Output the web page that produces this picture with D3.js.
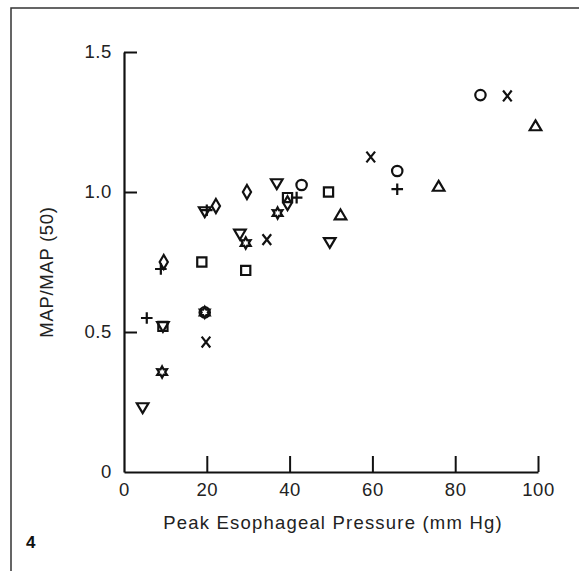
<!DOCTYPE html>
<html>
<head>
<meta charset="utf-8">
<script src="https://cdn.jsdelivr.net/npm/d3@7"></script>
<style>
  body { margin: 0; background: #fff; }
  svg { display: block; font-family: "Liberation Sans", Arial, Helvetica, sans-serif; }
  .tick text { font-size: 18.5px; fill: #222; letter-spacing: 0.6px; }
</style>
</head>
<body>
<div class="chart"></div>
<script>
// x = peak esophageal pressure (mm Hg), y = MAP/MAP(50)
const triangleDown = [[4.5, 0.23], [9.4, 0.52], [19.5, 0.93], [28, 0.85], [36.9, 1.03], [49.7, 0.82]];
const diamond = [[9.6, 0.75], [22.2, 0.95], [29.7, 1.0], [39.5, 0.96]];
const plus = [[5.5, 0.55], [8.9, 0.725], [20, 0.935], [41.7, 0.98], [66, 1.01]];
const square = [[9.4, 0.52], [18.8, 0.75], [29.4, 0.72], [39.5, 0.98], [49.4, 1.0]];
const circle = [[19.5, 0.57], [42.9, 1.025], [66, 1.075], [86.1, 1.346]];
const times = [[19.8, 0.464], [34.5, 0.83], [59.6, 1.125], [92.6, 1.343]];
const triangleUp = [[52.3, 0.918], [76, 1.02], [99.4, 1.236]];
const star = [[9.2, 0.357], [19.5, 0.57], [29.4, 0.818], [37.1, 0.925]];

const xTicks = [0, 20, 40, 60, 80, 100];
const yTicks = [0, 0.5, 1.0, 1.5];
const yTickLabels = ["0", "0.5", "1.0", "1.5"];

const width = 579, height = 571;
const x = d3.scaleLinear().domain([0, 100]).range([124, 538]);
const y = d3.scaleLinear().domain([0, 1.5]).range([472, 52]);

// simple outline marker shapes, size = half width in px
const shapes = {
    circle: { draw(c, r) { c.moveTo(r, 0); c.arc(0, 0, r, 0, 2 * Math.PI); } },
    square: { draw(c, r) { c.rect(-r, -r, 2 * r, 2 * r); } },
    diamond: { draw(c, r) { c.moveTo(0, -r * 1.45); c.lineTo(r * 0.85, 0); c.lineTo(0, r * 1.45); c.lineTo(-r * 0.85, 0); c.closePath(); } },
    triangleUp: { draw(c, r) { c.moveTo(0, -r * 0.95); c.lineTo(r, r * 0.75); c.lineTo(-r, r * 0.75); c.closePath(); } },
    triangleDown: { draw(c, r) { c.moveTo(0, r * 0.95); c.lineTo(r, -r * 0.75); c.lineTo(-r, -r * 0.75); c.closePath(); } },
    plus: { draw(c, r) { c.moveTo(-r, 0); c.lineTo(r, 0); c.moveTo(0, -r); c.lineTo(0, r); } },
    times: { draw(c, r) { c.moveTo(-r * 0.8, -r); c.lineTo(r * 0.8, r); c.moveTo(r * 0.8, -r); c.lineTo(-r * 0.8, r); } },
    star: { draw(c, r) {
        for (let i = 0; i < 12; i++) {
            const a = -Math.PI / 2 + i * Math.PI / 6;
            const rr = i % 2 === 0 ? r : r * 0.55;
            if (i === 0) c.moveTo(rr * Math.cos(a), rr * Math.sin(a));
            else c.lineTo(rr * Math.cos(a), rr * Math.sin(a));
        }
        c.closePath();
    } }
};

const series = [
    { data: triangleDown, shape: "triangleDown", r: 5.8 },
    { data: diamond, shape: "diamond", r: 4.8 },
    { data: plus, shape: "plus", r: 5.8 },
    { data: square, shape: "square", r: 4.6 },
    { data: circle, shape: "circle", r: 5.2 },
    { data: times, shape: "times", r: 5.4 },
    { data: triangleUp, shape: "triangleUp", r: 5.8 },
    { data: star, shape: "star", r: 5.6 }
];

const svg = d3.select(".chart").append("svg").attr("width", width).attr("height", height);

// figure frame (left and top edges only)
svg.append("path").attr("d", "M11,571V8H579").attr("fill", "none").attr("stroke", "#333").attr("stroke-width", 1.5);

const xAxis = d3.axisBottom(x).tickValues(xTicks).tickFormat(d3.format("d")).tickSizeInner(-16).tickSizeOuter(0).tickPadding(11);
const yAxis = d3.axisLeft(y).tickValues(yTicks).tickFormat((d, i) => yTickLabels[i]).tickSizeInner(-13).tickSizeOuter(0).tickPadding(12);

const gx = svg.append("g").attr("transform", "translate(0,472)").call(xAxis);
const gy = svg.append("g").attr("transform", "translate(124,0)").call(yAxis);
[gx, gy].forEach(g => {
    g.select(".domain").attr("stroke", "#111").attr("stroke-width", 2.2);
    g.selectAll(".tick line").attr("stroke", "#111").attr("stroke-width", 2);
    g.selectAll(".tick text").attr("font-family", null).attr("font-size", null);
});
gx.selectAll(".tick").filter(d => d === 0).select("line").remove();
gy.selectAll(".tick").filter(d => d === 0).select("line").remove();

svg.append("text").attr("x", 333).attr("y", 529).attr("text-anchor", "middle")
    .attr("font-size", 18.5).attr("letter-spacing", 1.2).attr("fill", "#222")
    .text("Peak Esophageal Pressure (mm Hg)");

svg.append("text").attr("transform", "translate(53,272) rotate(-90)").attr("text-anchor", "middle")
    .attr("font-size", 18.5).attr("letter-spacing", 0.7).attr("fill", "#222")
    .text("MAP/MAP (50)");

svg.append("text").attr("x", 26).attr("y", 548).attr("font-size", 17).attr("font-weight", "bold").attr("fill", "#111").text("4");

const marks = svg.append("g").attr("class", "marks");
series.forEach(s => {
    marks.selectAll(null).data(s.data).enter().append("path")
        .attr("transform", d => `translate(${x(d[0])},${y(d[1])})`)
        .attr("d", d3.symbol().type(shapes[s.shape]).size(s.r))
        .attr("fill", "none").attr("stroke", "#111").attr("stroke-width", 2.2);
});
</script>
</body>
</html>
